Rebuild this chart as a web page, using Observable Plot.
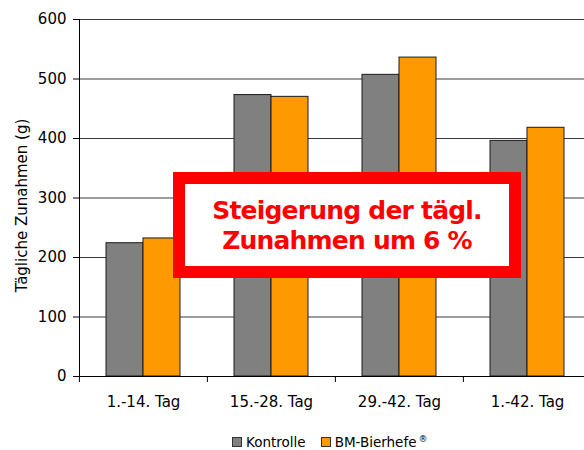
<!DOCTYPE html>
<html><head><meta charset="utf-8">
<script src="https://cdn.jsdelivr.net/npm/d3@7"></script>
<script src="https://cdn.jsdelivr.net/npm/@observablehq/plot@0.6"></script>
<style>
body{margin:0;background:#fff;}
#wrap{position:relative;width:584px;height:450px;overflow:hidden;font-family:"DejaVu Sans",sans-serif;background:#fff;}
#wrap svg{position:absolute;left:0;top:0;}
#note{position:absolute;left:173px;top:172px;width:348px;height:106px;box-sizing:border-box;border:12px solid #FF0000;background:#fff;
  color:#FF0000;font-family:"DejaVu Sans",sans-serif;font-weight:bold;font-size:25px;letter-spacing:-0.8px;line-height:30px;text-align:center;padding-top:12px;}
#legend{position:absolute;left:232px;top:434px;display:flex;align-items:center;font-size:13.5px;line-height:16px;color:#000;}
#legend .sw{width:10px;height:10px;box-sizing:border-box;border:1px solid #333;margin-right:4px;}
#legend .item{display:flex;align-items:center;margin-right:15px;}
#legend sup{font-size:9px;margin-left:2px;vertical-align:5px;line-height:0;}
</style></head><body><div id="wrap"></div>
<script>
const categories = ["1.-14. Tag", "15.-28. Tag", "29.-42. Tag", "1.-42. Tag"];
const seriesNames = ["Kontrolle", "BM-Bierhefe®"];
const kontrolle = [224, 473, 507, 396];
const bierhefe = [232, 470, 536, 418];
const seriesColors = ["#808080", "#FF9900"];
const yTicks = [0, 100, 200, 300, 400, 500, 600];
const yLabel = "Tägliche Zunahmen (g)";
const annotationLines = ["Steigerung der tägl.", "Zunahmen um 6 %"];

const data = categories.flatMap((c, i) => [
  {cat: c, series: seriesNames[0], value: kontrolle[i]},
  {cat: c, series: seriesNames[1], value: bierhefe[i]}
]);

const fxRange = [78, 591];
const chart = Plot.plot({
  width: 584, height: 425,
  marginTop: 19, marginBottom: 49, marginLeft: 78, marginRight: 0,
  style: {fontFamily: "DejaVu Sans", fontSize: "15px", color: "#000", background: "transparent", overflow: "visible"},
  fx: {domain: categories, range: fxRange, padding: 0, label: null, axis: null},
  x: {domain: seriesNames, paddingInner: 0, paddingOuter: 0.72, axis: null},
  y: {domain: [0, 600], label: null, axis: null},
  color: {domain: seriesNames, range: seriesColors},
  marks: [
    Plot.ruleY(yTicks.slice(1), {stroke: "#3a3a3a"}),
    Plot.barY(data, {fx: "cat", x: "series", y: "value", fill: "series", stroke: "#1a1a1a", strokeWidth: 1}),
    Plot.ruleY([0], {stroke: "#000"}),
    Plot.frame({anchor: "left", facet: "super", stroke: "#000"}),
    Plot.axisY({ticks: yTicks, tickSize: 6, tickPadding: 7, tickFormat: d => String(d), label: null, fontSize: 15}),
    Plot.text([yLabel], {frameAnchor: "left", textAnchor: "middle", lineAnchor: "middle", facet: "super", rotate: -90, dx: -57.5, dy: 7.5, fontSize: 15, fill: "#000"}),
    Plot.axisFx({anchor: "bottom", tickSize: 0, tickPadding: 20, label: null, fontSize: 15}),
    Plot.axisFx({anchor: "bottom", text: null, tickSize: 6, dx: -(fxRange[1] - fxRange[0]) / categories.length / 2, label: null})
  ]
});
const wrap = document.getElementById("wrap");
wrap.appendChild(chart);

const note = document.createElement("div");
note.id = "note";
note.innerHTML = annotationLines.map(s => `<div>${s}</div>`).join("");
wrap.appendChild(note);

const legend = document.createElement("div");
legend.id = "legend";
seriesNames.forEach((name, i) => {
  const item = document.createElement("div");
  item.className = "item";
  const sw = document.createElement("div");
  sw.className = "sw";
  sw.style.background = seriesColors[i];
  item.appendChild(sw);
  const t = document.createElement("span");
  t.innerHTML = name.replace("®", "<sup>®</sup>");
  item.appendChild(t);
  legend.appendChild(item);
});
wrap.appendChild(legend);
</script></body></html>
